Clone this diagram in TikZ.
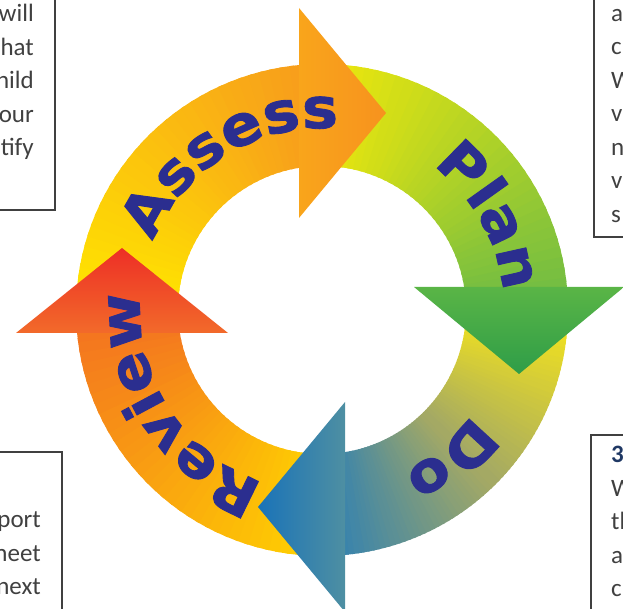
\documentclass[tikz,border=0pt]{standalone}
\usepackage{fontspec}
\setmainfont{Carlito}
\newfontfamily\ringfont[FakeStretch=1.08, FakeBold=1.6]{DejaVu Sans}
\usetikzlibrary{calc, decorations.text}
\definecolor{asyel}{HTML}{FFE500}
\definecolor{asor}{HTML}{F79A1D}
\definecolor{asheadA}{HTML}{F9A51B}
\definecolor{asheadB}{HTML}{F7921E}
\definecolor{plyel}{HTML}{EDE70C}
\definecolor{plgrn}{HTML}{6DBB45}
\definecolor{plheadA}{HTML}{5AB546}
\definecolor{plheadB}{HTML}{2E9D48}
\definecolor{doyel}{HTML}{F6E51A}
\definecolor{doolv}{HTML}{A4A964}
\definecolor{doblu}{HTML}{2C7FB5}
\definecolor{doheadA}{HTML}{4E8FA2}
\definecolor{doheadB}{HTML}{1A73B8}
\definecolor{reyel}{HTML}{FFD200}
\definecolor{reor}{HTML}{F37021}
\definecolor{reheadA}{HTML}{F26A2A}
\definecolor{reheadB}{HTML}{ED2F26}
\definecolor{ringblue}{HTML}{2B2E8F}
\definecolor{headnavy}{HTML}{1F3864}
% one quarter of the ring: start angle, end angle, colour from, colour to
\newcommand{\ringarc}[4]{%
    \foreach \k in {0,...,35}{
        \pgfmathsetmacro{\angA}{#1+(#2-#1)*\k/36}
        \pgfmathsetmacro{\angB}{#1+(#2-#1)*(\k+1.4)/36}
        \pgfmathtruncatemacro{\pc}{100*\k/35}
        \fill[#4!\pc!#3] ($(C)+(\angA:144)$) arc[start angle=\angA, end angle=\angB, radius=144]
            -- ($(C)+(\angB:246)$) arc[start angle=\angB, end angle=\angA, radius=246] -- cycle;
    }%
}
\tikzset{
    boxline/.style={draw=black!75, line width=1.1pt},
    boxtext/.style={font=\fontsize{25}{30}\selectfont, text=black!75, inner sep=0pt},
    ringlabel/.style={decorate, decoration={text along path, text align=center,
        text={|\ringfont\bfseries\fontsize{56}{56}\selectfont\color{ringblue}|#1}}},
}

\begin{document}
\begin{tikzpicture}[x=1pt, y=1pt]
\useasboundingbox (0,0) rectangle (623,609);
\clip (0,0) rectangle (623,609);
\coordinate (C) at (322,299);
% ring bodies
\ringarc{180}{90}{asyel}{asor}
\ringarc{90}{0}{plyel}{plgrn}
\ringarc{0}{-45}{doyel}{doolv}
\ringarc{-45}{-90}{doolv}{doblu}
\ringarc{270}{180}{reyel}{reor}
% arrow heads
\shade[left color=asheadA, right color=asheadB] (299,391) -- (299,601) -- (386,496) -- cycle;
\shade[top color=plheadA, bottom color=plheadB] (414,322) -- (624,322) -- (519,235) -- cycle;
\shade[right color=doheadA, left color=doheadB] (345,-3) -- (345,207) -- (258,102) -- cycle;
\shade[bottom color=reheadA, top color=reheadB] (16,276) -- (228,276) -- (122,361) -- cycle;
% words on the ring
\path[ringlabel=Assess] ($(C)+(171.4:182)$) arc[start angle=171.4, end angle=71.4, radius=182];
\path[ringlabel=Plan] ($(C)+(79.2:182)$) arc[start angle=79.2, end angle=-20.8, radius=182];
\path[ringlabel=Do] ($(C)+(0.8:182)$) arc[start angle=0.8, end angle=-99.2, radius=182];
\path[ringlabel=Review] ($(C)+(262.9:182)$) arc[start angle=262.9, end angle=162.9, radius=182];
% text boxes
\draw[boxline] (-5,399) rectangle (55,615);
\foreach \t [count=\i] in {will,hat,hild,our,tify}
    \node[boxtext, anchor=base east] (tl\i) at (34,620.5-33.5*\i) {\t};
\draw[boxline] (594,372) rectangle (630,615);
\foreach \t [count=\i] in {a,c,W,v,n,v,s}
    \node[boxtext, anchor=base west] (tr\i) at (611,621-33.5*\i) {\t};
\draw[boxline] (591,-5) rectangle (630,174);
\node[boxtext, anchor=base west, text=headnavy, font=\fontsize{25}{30}\selectfont\bfseries] (br1) at (611,146) {3};
\foreach \t [count=\i from 2] in {W,th,a,c}
    \node[boxtext, anchor=base west] (br\i) at (611,179.5-33.5*\i) {\t};
\draw[boxline] (-5,-5) rectangle (62,157);
\foreach \t [count=\i] in {port,meet,next}
    \node[boxtext, anchor=base east] (bl\i) at (41,114.5-33.5*\i) {\t};
\end{tikzpicture}
\end{document}
